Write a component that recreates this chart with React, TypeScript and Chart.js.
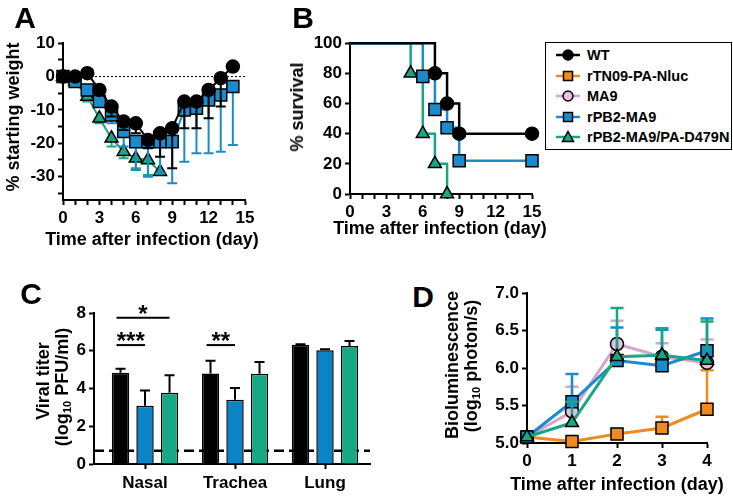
import React, { useEffect, useRef } from 'react';
import { Chart, registerables } from 'chart.js';

Chart.register(...registerables);

const FONT = '"Liberation Sans", Arial, Helvetica, sans-serif';
const TICK_FONT = { family: FONT, size: 17, weight: 'bold' as const };

// Colours
const C_WT = '#000000';
const C_NLUC = '#EE8A1F';
const C_MA9 = '#DBA2CB';
const C_MA9_FILL = '#E8BEDC';
const C_PB2 = '#1B8BCB';
const C_D479N = '#19A684';

// ---------------- Panel A : weight ----------------
const daysA = [0, 1, 2, 3, 4, 5, 6, 7, 8, 9, 10, 11, 12, 13, 14];
const wtWeight = [0, 0, 1, -4, -9, -13.5, -14, -19, -17, -15.5, -7.5, -7.5, -4, -0.5, 3];
const wtWeightSD = [0, 0, 1, 1.5, 3, 2.5, 3, 2.5, 7, 12, 8, 8, 8.5, 8.5, 0];
const pb2Weight = [0, -1.5, -4, -7.5, -11.5, -16.5, -19.5, -19.5, -19.5, -19.5, -10, -9.5, -7, -5.5, -3];
const pb2WeightSD = [0, 1, 1.5, 1.5, 2.5, 4.5, 8.5, 10.5, 9.5, 12.5, 15.5, 13.5, 16, 17, 17.5];
const daysA2 = [0, 1, 2, 3, 4, 5, 6, 7, 8];
const d479nWeight = [0, -1.5, -6, -12.5, -18.5, -22.5, -24.5, -25, -28.5];
const d479nWeightSD = [0, 1, 1.5, 1.5, 2.5, 2, 3, 4.5, 0];
const ticksA_X = [0, 1, 2, 3, 4, 5, 6, 7, 8, 9, 10, 11, 12, 13, 14, 15];
const ticksA_Y = [-35, -30, -25, -20, -15, -10, -5, 0, 5, 10];

// ---------------- Panel B : survival ----------------
const wtSurvDay = [0, 7, 8, 9, 15];
const wtSurv = [100, 80, 60, 40, 40];
const pb2SurvDay = [0, 6, 7, 8, 9, 15];
const pb2Surv = [100, 78, 56, 44, 22, 22];
const d479nSurvDay = [0, 5, 6, 7, 8];
const d479nSurv = [100, 80, 40, 20, 0];
const ticksB_X = ticksA_X;
const ticksB_Y = [0, 20, 40, 60, 80, 100];

// ---------------- Panel C : viral titer ----------------
const tissues = ['Nasal', 'Trachea', 'Lung'];
const tissuePos = [0, 1, 2];
const wtTiter = [4.83, 4.8, 6.32];
const wtTiterSD = [0.22, 0.67, 0.03];
const pb2Titer = [3.09, 3.4, 6.03];
const pb2TiterSD = [0.8, 0.62, 0.05];
const d479nTiter = [3.78, 4.78, 6.25];
const d479nTiterSD = [0.92, 0.62, 0.27];
const detectionLimit = 0.7;
const ticksC_Y = [0, 2, 4, 6, 8];
const sigGroup = [0, 0, 1];
const sigBarA = [0, 0, 0];
const sigBarB = [2, 1, 1];
const sigLevel = [7.75, 6.3, 6.3];
const sigLabel = ['*', '***', '**'];

// ---------------- Panel D : bioluminescence ----------------
const daysD = [0, 1, 2, 3, 4];
const nlucBio = [5.08, 5.02, 5.12, 5.2, 5.45];
const nlucBioSD = [0, 0, 0.07, 0.15, 0.52];
const ma9Bio = [5.08, 5.42, 6.32, 6.15, 6.07];
const ma9BioSD = [0, 0.33, 0.31, 0.18, 0.31];
const pb2Bio = [5.08, 5.55, 6.1, 6.03, 6.23];
const pb2BioSD = [0, 0.37, 0.44, 0.48, 0.43];
const d479nBio = [5.08, 5.27, 6.15, 6.17, 6.1];
const d479nBioSD = [0, 0.28, 0.65, 0.36, 0.52];
const ticksD_Y = [5, 5.5, 6, 6.5, 7];

// ---------------- Legend ----------------
const legendNames = ['WT', 'rTN09-PA-Nluc', 'MA9', 'rPB2-MA9', 'rPB2-MA9/PA-D479N'];
const legendLine = [C_WT, C_NLUC, C_MA9, C_PB2, C_D479N];
const legendFill = [C_WT, C_NLUC, C_MA9_FILL, C_PB2, C_D479N];
const legendShape = ['circle', 'square', 'circle', 'square', 'triangle'];

// ---------------- plugins ----------------
function drawErrorsFor(chart: any, index: number) {
  const ds = chart.data.datasets[index];
  if (!ds.errorBars) return;
  const ctx = chart.ctx;
  const ys = chart.scales.y;
  const meta = chart.getDatasetMeta(index);
  ctx.save();
  ctx.strokeStyle = ds.errorColor;
  ctx.lineWidth = ds.errorWidth ?? 2;
  meta.data.forEach((el: any, j: number) => {
    const e = ds.errorBars[j];
    if (!e) return;
    const raw = ds.data[j];
    const v = typeof raw === 'number' ? raw : raw.y;
    const end = ys.getPixelForValue(ds.errorDir === 'down' ? v - e : v + e);
    const x = el.x;
    const y0 = el.y;
    const c = ds.errorCap ?? 5;
    ctx.beginPath();
    ctx.moveTo(x, y0);
    ctx.lineTo(x, end);
    ctx.moveTo(x - c, end);
    ctx.lineTo(x + c, end);
    ctx.stroke();
  });
  ctx.restore();
}

const errorBarPlugin = {
  id: 'errorBars',
  beforeDatasetDraw(chart: any, args: any) {
    const ds = chart.data.datasets[args.index];
    if (ds.errorLayer !== 'after') drawErrorsFor(chart, args.index);
  },
  afterDatasetDraw(chart: any, args: any) {
    const ds = chart.data.datasets[args.index];
    if (ds.errorLayer === 'after') drawErrorsFor(chart, args.index);
  },
};

const refLinePlugin = {
  id: 'refLine',
  beforeDatasetsDraw(chart: any, _args: any, opts: any) {
    if (!opts || opts.value === undefined) return;
    const { ctx, chartArea } = chart;
    const y = chart.scales.y.getPixelForValue(opts.value);
    ctx.save();
    ctx.strokeStyle = opts.color || '#000';
    ctx.lineWidth = opts.width || 1;
    ctx.setLineDash(opts.dash || []);
    ctx.beginPath();
    ctx.moveTo(chartArea.left, y);
    ctx.lineTo(chartArea.right, y);
    ctx.stroke();
    ctx.restore();
  },
};

const sigPlugin = {
  id: 'sig',
  afterDatasetsDraw(chart: any) {
    const ctx = chart.ctx;
    const ys = chart.scales.y;
    ctx.save();
    sigLabel.forEach((lab, k) => {
      const a = chart.getDatasetMeta(sigBarA[k]).data[sigGroup[k]];
      const b = chart.getDatasetMeta(sigBarB[k]).data[sigGroup[k]];
      const py = ys.getPixelForValue(sigLevel[k]);
      const x0 = a.x - 4;
      const x1 = b.x;
      ctx.strokeStyle = '#000';
      ctx.lineWidth = 2;
      ctx.beginPath();
      ctx.moveTo(x0, py);
      ctx.lineTo(x1, py);
      ctx.stroke();
      ctx.fillStyle = '#000';
      ctx.font = `bold 24px ${FONT}`;
      ctx.textAlign = 'center';
      ctx.textBaseline = 'alphabetic';
      ctx.fillText(lab, (x0 + x1) / 2, py + 4);
    });
    ctx.restore();
  },
};

function axisCfg(o: any) {
  return {
    type: 'linear',
    min: o.min,
    max: o.max,
    offset: false,
    afterBuildTicks: (s: any) => {
      s.ticks = o.ticks.map((v: number) => ({ value: v }));
    },
    ticks: {
      autoSkip: false,
      maxRotation: 0,
      minRotation: 0,
      color: '#000',
      font: TICK_FONT,
      padding: o.padding ?? 3,
      callback: o.label,
    },
    grid: {
      offset: false,
      drawOnChartArea: false,
      drawTicks: true,
      tickLength: 5,
      tickColor: '#000',
      tickWidth: 2,
    },
    border: { display: true, color: '#000', width: 2 },
    afterFit: (s: any) => {
      if (o.isX) s.height = o.size;
      else s.width = o.size;
    },
  };
}

function baseOptions(padding: any, scales: any, extraPlugins: any = {}) {
  return {
    animation: false,
    responsive: false,
    maintainAspectRatio: false,
    events: [],
    layout: { padding },
    plugins: { legend: { display: false }, tooltip: { enabled: false }, ...extraPlugins },
    scales,
  };
}

const pts = (xs: number[], ys: number[]) => xs.map((x, i) => ({ x, y: ys[i] }));

function lineDs(label: string, data: any, color: string, fill: string, shape: string, r: any, extra: any = {}) {
  return {
    type: 'line',
    label,
    data,
    borderColor: color,
    backgroundColor: fill,
    borderWidth: 2,
    pointStyle: shape,
    pointRadius: r,
    pointBackgroundColor: fill,
    pointBorderColor: '#000',
    pointBorderWidth: 1.5,
    clip: false,
    tension: 0,
    ...extra,
  };
}

// ---------------- configs ----------------
function makeA() {
  return {
    type: 'line',
    data: {
      datasets: [
        lineDs('WT', pts(daysA, wtWeight), C_WT, C_WT, 'circle', 6.5, {
          errorBars: wtWeightSD, errorDir: 'down', errorColor: C_WT, errorCap: 5,
        }),
        lineDs('rPB2-MA9', pts(daysA, pb2Weight), C_PB2, C_PB2, 'rect', 8.5, {
          errorBars: pb2WeightSD, errorDir: 'down', errorColor: C_PB2, errorCap: 5,
        }),
        lineDs('rPB2-MA9/PA-D479N', pts(daysA2, d479nWeight), C_D479N, C_D479N, 'triangle', 7.5, {
          errorBars: d479nWeightSD, errorDir: 'down', errorColor: C_D479N, errorCap: 5,
        }),
      ],
    },
    options: baseOptions(
      { top: 13, right: 13, left: 0, bottom: 0 },
      {
        x: axisCfg({ min: 0, max: 15, ticks: ticksA_X, isX: true, size: 30, label: (v: number) => (v % 3 === 0 ? String(v) : '') }),
        y: axisCfg({ min: -37, max: 10, ticks: ticksA_Y, size: 63, label: (v: number) => (v % 10 === 0 ? String(v) : '') }),
      },
      { refLine: { value: 0, dash: [2, 2], width: 1, color: '#000' } }
    ),
    plugins: [errorBarPlugin, refLinePlugin],
  };
}

function makeB() {
  const radii = (n: number, r: number) => Array.from({ length: n }, (_, i) => (i === 0 ? 0 : r));
  return {
    type: 'line',
    data: {
      datasets: [
        lineDs('WT', pts(wtSurvDay, wtSurv), C_WT, C_WT, 'circle', radii(wtSurv.length, 6.5), { stepped: 'before', borderWidth: 2.5 }),
        lineDs('rPB2-MA9', pts(pb2SurvDay, pb2Surv), C_PB2, C_PB2, 'rect', radii(pb2Surv.length, 8.5), { stepped: 'before', borderWidth: 2.5 }),
        lineDs('rPB2-MA9/PA-D479N', pts(d479nSurvDay, d479nSurv), C_D479N, C_D479N, 'triangle', radii(d479nSurv.length, 7.5), { stepped: 'before', borderWidth: 2.5 }),
      ],
    },
    options: baseOptions(
      { top: 13, right: 13, left: 0, bottom: 0 },
      {
        x: axisCfg({ min: 0, max: 15, ticks: ticksB_X, isX: true, size: 36, label: (v: number) => (v % 3 === 0 ? String(v) : '') }),
        y: axisCfg({ min: 0, max: 100, ticks: ticksB_Y, size: 88, label: (v: number) => String(v) }),
      }
    ),
  };
}

function makeC() {
  const bar = (label: string, vals: number[], sd: number[], color: string) => ({
    type: 'bar',
    label,
    data: vals.map((v, i) => ({ x: tissuePos[i], y: v })),
    backgroundColor: color,
    borderColor: '#000',
    borderWidth: 1.5,
    categoryPercentage: 0.817,
    barPercentage: 0.71,
    errorBars: sd,
    errorDir: 'up',
    errorColor: '#000',
    errorCap: 5,
    errorLayer: 'after',
    clip: false,
  });
  return {
    type: 'bar',
    data: {
      datasets: [
        bar('WT', wtTiter, wtTiterSD, C_WT),
        bar('rPB2-MA9', pb2Titer, pb2TiterSD, '#0B84C7'),
        bar('rPB2-MA9/PA-D479N', d479nTiter, d479nTiterSD, '#16A784'),
      ],
    },
    options: baseOptions(
      { top: 58, right: 10, left: 0, bottom: 0 },
      {
        x: axisCfg({ min: -0.567, max: 2.5, ticks: tissuePos, isX: true, size: 34, padding: 4, label: (v: number) => tissues[v] ?? '' }),
        y: axisCfg({ min: 0, max: 8, ticks: ticksC_Y, size: 94, label: (v: number) => String(v) }),
      },
      { refLine: { value: detectionLimit, dash: [10, 5], width: 2.5, color: '#000' } }
    ),
    plugins: [errorBarPlugin, refLinePlugin, sigPlugin],
  };
}

function makeD() {
  const ex = (sd: number[], color: string) => ({
    errorBars: sd, errorDir: 'up', errorColor: color, errorCap: 6.5, errorWidth: 2.5, borderWidth: 3,
  });
  return {
    type: 'line',
    data: {
      datasets: [
        lineDs('rPB2-MA9/PA-D479N', pts(daysD, d479nBio), C_D479N, C_D479N, 'triangle', 7.5, ex(d479nBioSD, C_D479N)),
        lineDs('rPB2-MA9', pts(daysD, pb2Bio), C_PB2, C_PB2, 'rect', 8.5, ex(pb2BioSD, C_PB2)),
        lineDs('MA9', pts(daysD, ma9Bio), C_MA9, C_MA9_FILL, 'circle', 6.5, ex(ma9BioSD, C_MA9)),
        lineDs('rTN09-PA-Nluc', pts(daysD, nlucBio), C_NLUC, C_NLUC, 'rect', 8.5, ex(nlucBioSD, C_NLUC)),
      ],
    },
    options: baseOptions(
      { top: 38, right: 26, left: 0, bottom: 0 },
      {
        x: axisCfg({ min: 0, max: 4, ticks: daysD, isX: true, size: 55, label: (v: number) => String(v) }),
        y: axisCfg({ min: 5, max: 7, ticks: ticksD_Y, size: 77, label: (v: number) => v.toFixed(1) }),
      }
    ),
    plugins: [errorBarPlugin],
  };
}

// ---------------- components ----------------
function ChartCanvas({ left, top, width, height, make }: any) {
  const ref = useRef<HTMLCanvasElement | null>(null);
  useEffect(() => {
    const chart = new Chart(ref.current as any, make() as any);
    return () => chart.destroy();
  }, []);
  return (
    <canvas
      ref={ref}
      width={width}
      height={height}
      style={{ position: 'absolute', left, top, width, height }}
    />
  );
}

function Txt({ x, y, size = 18, rotate = false, children }: any) {
  return (
    <div
      style={{
        position: 'absolute',
        left: x,
        top: y,
        transform: `translate(-50%, -50%)${rotate ? ' rotate(-90deg)' : ''}`,
        fontFamily: FONT,
        fontWeight: 'bold',
        fontSize: size,
        lineHeight: 1,
        whiteSpace: 'nowrap',
        color: '#000',
      }}
    >
      {children}
    </div>
  );
}

function Sub({ children }: any) {
  return <span style={{ fontSize: '0.62em', verticalAlign: '-0.25em' }}>{children}</span>;
}

function LegendSymbol({ shape, line, fill }: any) {
  return (
    <svg width={24} height={14} style={{ position: 'absolute', left: 10, top: 3 }}>
      <line x1={0} y1={7} x2={24} y2={7} stroke={line} strokeWidth={2.5} />
      {shape === 'circle' && <circle cx={12} cy={7} r={5} fill={fill} stroke="#000" strokeWidth={1.5} />}
      {shape === 'square' && <rect x={7.5} y={2.5} width={9} height={9} fill={fill} stroke="#000" strokeWidth={1.5} />}
      {shape === 'triangle' && <polygon points="12,1.5 17.5,11.5 6.5,11.5" fill={fill} stroke="#000" strokeWidth={1.5} />}
    </svg>
  );
}

function Legend() {
  return (
    <div
      style={{
        position: 'absolute',
        left: 545,
        top: 42,
        width: 187,
        height: 108,
        boxSizing: 'border-box',
        border: '1.5px solid #000',
        background: '#fff',
      }}
    >
      {legendNames.map((name, i) => (
        <div key={name} style={{ position: 'absolute', left: 0, top: 2 + i * 20.5, height: 20, width: 185 }}>
          <LegendSymbol shape={legendShape[i]} line={legendLine[i]} fill={legendFill[i]} />
          <div
            style={{
              position: 'absolute',
              left: 41,
              top: 3,
              fontFamily: FONT,
              fontWeight: 'bold',
              fontSize: 14.5,
              lineHeight: '15px',
              whiteSpace: 'nowrap',
            }}
          >
            {name}
          </div>
        </div>
      ))}
    </div>
  );
}

export default function App() {
  return (
    <div
      style={{
        position: 'absolute',
        left: 0,
        top: 0,
        width: 733,
        height: 498,
        background: '#fff',
        overflow: 'hidden',
      }}
    >
      <ChartCanvas left={0} top={30} width={258} height={200} make={makeA} />
      <ChartCanvas left={262} top={30} width={283} height={200} make={makeB} />
      <ChartCanvas left={0} top={255} width={380} height={243} make={makeC} />
      <ChartCanvas left={450} top={255} width={283} height={243} make={makeD} />

      <Txt x={25} y={17.5} size={30}>A</Txt>
      <Txt x={303} y={17.5} size={30}>B</Txt>
      <Txt x={31} y={293.5} size={30}>C</Txt>
      <Txt x={423} y={297} size={30}>D</Txt>

      <Txt x={12.5} y={117} rotate>% starting weight</Txt>
      <Txt x={152} y={239}>Time after infection (day)</Txt>

      <Txt x={297} y={107} rotate>% survival</Txt>
      <Txt x={440} y={228}>Time after infection (day)</Txt>

      <Txt x={43} y={381} rotate>Viral titer</Txt>
      <Txt x={63} y={387} rotate>(log<Sub>10</Sub> PFU/ml)</Txt>

      <Txt x={452} y={365} rotate>Bioluminescence</Txt>
      <Txt x={472} y={366} rotate>(log<Sub>10</Sub> photon/s)</Txt>
      <Txt x={617} y={484}>Time after infection (day)</Txt>

      <Legend />
    </div>
  );
}
